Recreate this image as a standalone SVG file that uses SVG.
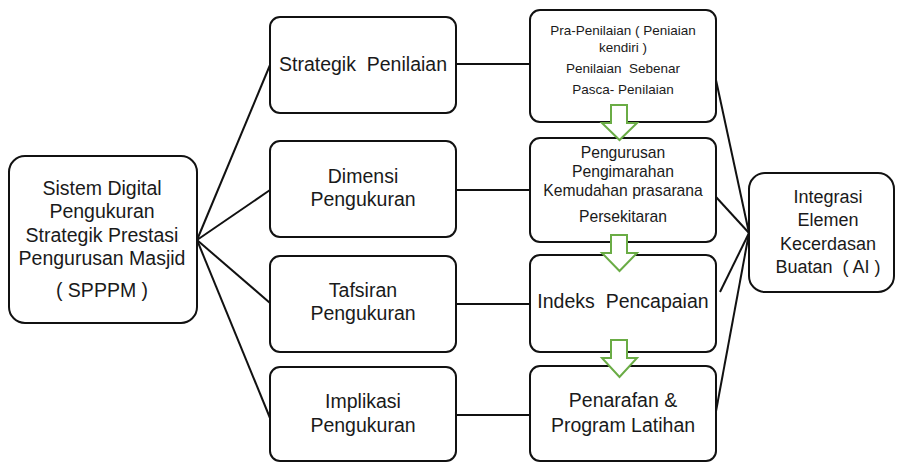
<svg xmlns="http://www.w3.org/2000/svg" width="900" height="462" viewBox="0 0 900 462">
<style>
.box{fill:#fff;stroke:#111;stroke-width:2}
.con{stroke:#111;stroke-width:2;fill:none}
.arr{fill:#fff;stroke:#6aac45;stroke-width:2;stroke-linejoin:miter}
text{font-family:"Liberation Sans",Arial,sans-serif;fill:#1a1a1a;text-anchor:middle}
.t20{font-size:19.5px}
.t18{font-size:18px}
.t16{font-size:15.7px}
.t13{font-size:13.5px}
</style>
<g id="connectors">
<line class="con" x1="197" y1="240" x2="270" y2="65"/>
<line class="con" x1="197" y1="240" x2="270" y2="190"/>
<line class="con" x1="197" y1="240" x2="270" y2="303"/>
<line class="con" x1="197" y1="240" x2="270" y2="418"/>
<line class="con" x1="456" y1="64" x2="530" y2="64"/>
<line class="con" x1="456" y1="190" x2="530" y2="190"/>
<line class="con" x1="456" y1="304" x2="530" y2="304"/>
<line class="con" x1="456" y1="415" x2="530" y2="415"/>
<line class="con" x1="716" y1="80" x2="749" y2="233"/>
<line class="con" x1="716" y1="197" x2="749" y2="233"/>
<line class="con" x1="720" y1="292" x2="749" y2="233"/>
<line class="con" x1="714" y1="422" x2="749" y2="233"/>
</g>
<g id="n-spppm">
<rect class="box" x="9" y="156" width="188" height="167" rx="16"/>
<text class="t20" x="102" y="195">Sistem Digital</text>
<text class="t20" x="102" y="218">Pengukuran</text>
<text class="t20" x="102" y="242">Strategik Prestasi</text>
<text class="t20" x="102" y="265">Pengurusan Masjid</text>
<text class="t20" x="102" y="297">( SPPPM )</text>
</g>
<g id="n-strategik">
<rect class="box" x="270" y="17" width="186" height="96" rx="10"/>
<text class="t20" x="363" y="71" xml:space="preserve">Strategik  Penilaian</text>
</g>
<g id="n-dimensi">
<rect class="box" x="270" y="141" width="186" height="96" rx="10"/>
<text class="t20" x="363" y="183">Dimensi</text>
<text class="t20" x="363" y="206">Pengukuran</text>
</g>
<g id="n-tafsiran">
<rect class="box" x="270" y="256" width="186" height="96" rx="10"/>
<text class="t20" x="363" y="297">Tafsiran</text>
<text class="t20" x="363" y="320">Pengukuran</text>
</g>
<g id="n-implikasi">
<rect class="box" x="270" y="367" width="186" height="94" rx="10"/>
<text class="t20" x="363" y="408">Implikasi</text>
<text class="t20" x="363" y="432">Pengukuran</text>
</g>
<g id="n-pra">
<rect class="box" x="530" y="10" width="186" height="112" rx="10"/>
<text class="t13" x="623" y="35">Pra-Penilaian ( Peniaian</text>
<text class="t13" x="623" y="52">kendiri )</text>
<text class="t13" x="623" y="73" xml:space="preserve">Penilaian  Sebenar</text>
<text class="t13" x="623" y="94">Pasca- Penilaian</text>
</g>
<g id="n-pengurusan">
<rect class="box" x="530" y="138" width="186" height="104" rx="10"/>
<text class="t16" x="623" y="158">Pengurusan</text>
<text class="t16" x="623" y="177">Pengimarahan</text>
<text class="t16" x="623" y="196">Kemudahan prasarana</text>
<text class="t16" x="623" y="222">Persekitaran</text>
</g>
<g id="n-indeks">
<rect class="box" x="530" y="255" width="186" height="97" rx="10"/>
<text class="t20" x="623" y="308" xml:space="preserve">Indeks  Pencapaian</text>
</g>
<g id="n-penarafan">
<rect class="box" x="530" y="366" width="186" height="95" rx="10"/>
<text class="t20" x="623" y="407">Penarafan &amp;</text>
<text class="t20" x="623" y="432">Program Latihan</text>
</g>
<g id="n-ai">
<rect class="box" x="749" y="173" width="145" height="119" rx="16"/>
<text class="t18" x="828" y="203">Integrasi</text>
<text class="t18" x="828" y="226">Elemen</text>
<text class="t18" x="828" y="250">Kecerdasan</text>
<text class="t18" x="828" y="273" xml:space="preserve">Buatan  ( AI )</text>
</g>
<g id="flow-arrows">
<path class="arr" d="M611,105 H627 V123 H637 L619.5,140 L602,123 H611 Z"/>
<path class="arr" d="M611,235 H627 V253 H637 L619.5,271 L602,253 H611 Z"/>
<path class="arr" d="M611,340 H627 V358 H637 L619.5,377 L602,358 H611 Z"/>
</g>
</svg>
